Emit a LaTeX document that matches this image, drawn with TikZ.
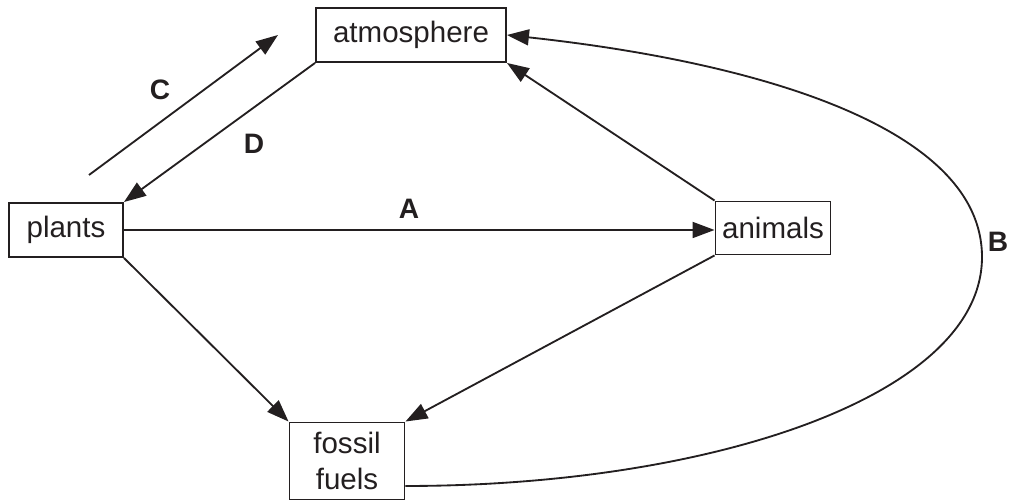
\documentclass[tikz,border=0pt]{standalone}
\usepackage{fontspec}
\setmainfont{Liberation Sans}
\usetikzlibrary{arrows.meta}
\definecolor{ink}{HTML}{231F20}
\begin{document}
\begin{tikzpicture}[x=.02cm,y=-.02cm,ink,
  box/.style={draw,line width=1.1pt,inner sep=0pt,minimum height=1.08cm,
              font=\fontsize{16.8}{20}\selectfont},
  flow/.style={line width=1.05pt,-{Triangle[length=.44cm,width=.32cm]}},
  lbl/.style={font=\fontsize{16}{19}\selectfont\bfseries}]
\useasboundingbox (0,0) rectangle (1009,502);
\node[box,minimum width=3.8cm]  (atm)     at (411,35)  {atmosphere};
\node[box,minimum width=2.28cm] (plants)  at (66,230)  {plants};
\node[box,minimum width=2.3cm,minimum height=1.06cm] (animals) at (773,228) {animals};
\node[box,minimum width=2.3cm,minimum height=1.54cm,align=center] (fossil) at (347,461) {fossil\\fuels};
\coordinate (cfoot) at (89,175);
\coordinate (ctip)  at (278,35);
\coordinate (bturn) at (982,257);

\draw[flow] (cfoot) -- (ctip);
\draw[flow] (atm.south west) -- (plants.north east);
\draw[flow] (plants.east) -- (plants.east -| animals.west);
\draw[flow] (animals.north west) -- (atm.south east);
\draw[flow] (animals.south west) -- (fossil.north east);
\draw[flow] (plants.south east) -- (fossil.north west);
\draw[flow] ([yshift=-.5cm]fossil.east) .. controls (708,486) and (982,397) .. (bturn)
            .. controls (982,127) and (756,62) .. (atm.east);

\node[lbl] (lc) at (160,90)  {C};
\node[lbl] (ld) at (254,144) {D};
\node[lbl] (la) at (409,209) {A};
\node[lbl] (lb) at (998,242) {B};
\end{tikzpicture}
\end{document}
